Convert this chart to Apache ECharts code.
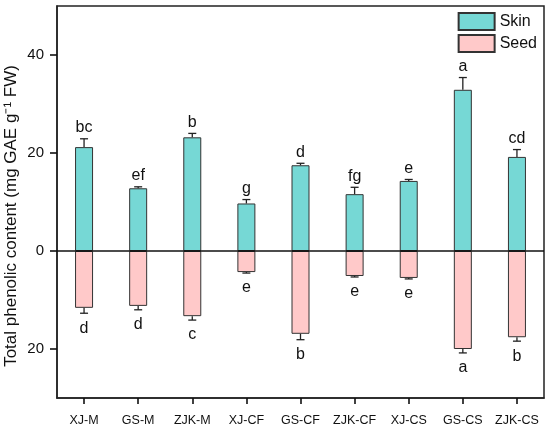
<!DOCTYPE html>
<html>
<head>
<meta charset="utf-8">
<script src="https://cdn.jsdelivr.net/npm/echarts@6/dist/echarts.min.js"></script>
<style>
  html, body { margin: 0; padding: 0; background: #fff; }
  #chart { width: 550px; height: 430px; }
</style>
</head>
<body>
<div id="chart"></div>
<script>
var categories = ['XJ-M', 'GS-M', 'ZJK-M', 'XJ-CF', 'GS-CF', 'ZJK-CF', 'XJ-CS', 'GS-CS', 'ZJK-CS'];
// skin values (plotted up) and seed values (plotted down)
var skinValues = [21.2, 12.8, 23.2, 9.7, 17.5, 11.6, 14.3, 32.9, 19.2];
var skinErrors = [1.7, 0.3, 0.8, 0.8, 0.4, 1.4, 0.3, 2.5, 1.5];
var skinLetters = ['bc', 'ef', 'b', 'g', 'd', 'fg', 'e', 'a', 'cd'];
var seedValues = [11.6, 11.2, 13.3, 4.3, 16.9, 5.1, 5.5, 20.0, 17.6];
var seedErrors = [1.1, 0.8, 0.8, 0.2, 1.2, 0.2, 0.2, 0.8, 0.8];
var seedLetters = ['d', 'd', 'c', 'e', 'b', 'e', 'e', 'a', 'b'];
var yTicks = [-20, 0, 20, 40];

var FONT = '"Liberation Sans", Arial, sans-serif';

function errData(vals, errs, sign) {
    return vals.map(function (v, i) { return [i, sign * v, errs[i]]; });
}

function errRenderer(sign, letters) {
    return function (params, api) {
        var i = api.value(0), v = api.value(1), e = api.value(2);
        var p0 = api.coord([i, v]);
        var p1 = api.coord([i, v + sign * e]);
        var style = { stroke: '#222', lineWidth: 1.3 };
        return {
            type: 'group',
            children: [
                { type: 'line', shape: { x1: p0[0], y1: p0[1], x2: p1[0], y2: p1[1] }, style: style },
                { type: 'line', shape: { x1: p1[0] - 4, y1: p1[1], x2: p1[0] + 4, y2: p1[1] }, style: style },
                {
                    type: 'text',
                    x: p1[0],
                    y: sign > 0 ? p1[1] - 3 : p1[1] + 7,
                    style: {
                        text: letters[params.dataIndex],
                        fontSize: 16,
                        fontFamily: FONT,
                        fill: '#111',
                        align: 'center',
                        verticalAlign: sign > 0 ? 'bottom' : 'top'
                    }
                }
            ]
        };
    };
}

var option = {
    animation: false,
    backgroundColor: '#fff',
    grid: {
        left: 57, right: 6, top: 6, bottom: 32,
        outerBoundsMode: 'none',
        containLabel: false,
        show: true, borderColor: '#222', borderWidth: 1.5
    },
    legend: {
        orient: 'vertical',
        right: 8, top: 7,
        icon: 'rect',
        itemWidth: 36, itemHeight: 17, itemGap: 3,
        textStyle: { fontSize: 16, fontFamily: FONT, color: '#111' },
        data: ['Skin', 'Seed']
    },
    xAxis: {
        type: 'category',
        data: categories,
        axisLine: { onZero: false, lineStyle: { color: '#222', width: 1.5 } },
        axisTick: { show: true, interval: 0, alignWithLabel: true, length: 6, lineStyle: { color: '#111', width: 1.6 } },
        axisLabel: { interval: 0, fontSize: 12.5, fontFamily: FONT, color: '#111', margin: 16 }
    },
    yAxis: {
        type: 'value',
        min: -30, max: 50, interval: 10,
        name: 'Total phenolic content (mg GAE g\u207B\u00B9 FW)',
        nameLocation: 'middle',
        nameGap: 37,
        nameMoveOverlap: false,
        nameTextStyle: { fontSize: 17, fontFamily: FONT, color: '#111', padding: [0, 28, 0, 0] },
        splitLine: { show: false },
        axisLine: { show: true, lineStyle: { color: '#222', width: 1.5 } },
        axisTick: { show: true, length: 7, customValues: yTicks, lineStyle: { color: '#111', width: 1.6 } },
        axisLabel: {
            fontSize: 15, fontFamily: FONT, color: '#111', margin: 13,
            customValues: yTicks,
            formatter: function (v) { return Math.abs(v); }
        }
    },
    series: [
        {
            name: 'Skin',
            type: 'bar',
            barWidth: 18,
            barGap: '-100%',
            data: skinValues,
            itemStyle: { color: '#76D8D5', borderColor: '#333', borderWidth: 1 },
            markLine: {
                silent: true,
                symbol: 'none',
                label: { show: false },
                lineStyle: { color: '#111', width: 1.5, type: 'solid' },
                data: [{ yAxis: 0 }]
            },
            z: 2
        },
        {
            name: 'Seed',
            type: 'bar',
            barWidth: 18,
            data: seedValues.map(function (v) { return -v; }),
            itemStyle: { color: '#FFC9C9', borderColor: '#333', borderWidth: 1 },
            z: 2
        },
        {
            type: 'custom',
            renderItem: errRenderer(1, skinLetters),
            data: errData(skinValues, skinErrors, 1),
            z: 3
        },
        {
            type: 'custom',
            renderItem: errRenderer(-1, seedLetters),
            data: errData(seedValues, seedErrors, -1),
            z: 3
        }
    ]
};

var chart = echarts.init(document.getElementById('chart'));
chart.setOption(option);
</script>
</body>
</html>
